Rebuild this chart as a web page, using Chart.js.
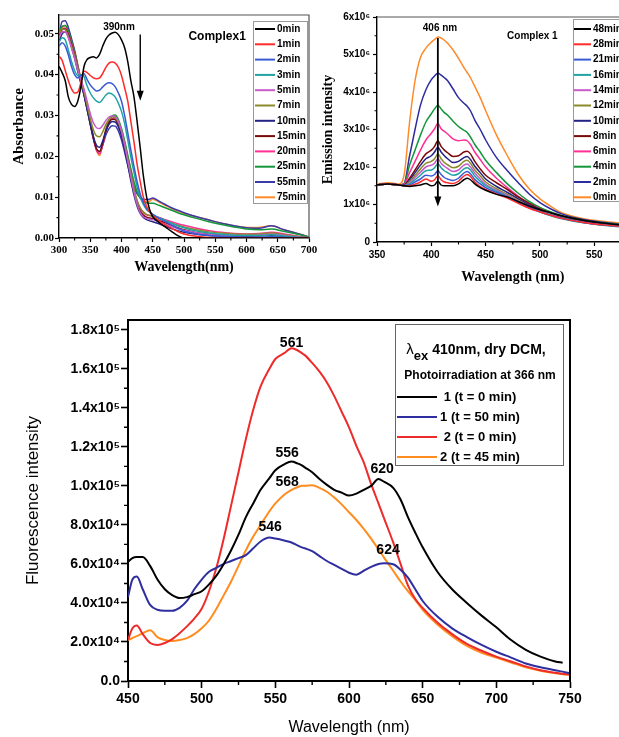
<!DOCTYPE html>
<html>
<head>
<meta charset="utf-8">
<script src="https://cdn.jsdelivr.net/npm/chart.js@4.4.1/dist/chart.umd.min.js"></script>
<style>
html, body { margin: 0; padding: 0; background: #fff; overflow: hidden; width: 619px; height: 737px; }
canvas { position: absolute; }
#c1 { left: 0; top: 0; }
#c2 { left: 320px; top: 0; }
#c3 { left: 0; top: 290px; }
</style>
</head>
<body>
<canvas id="c1" width="320" height="285"></canvas>
<canvas id="c2" width="340" height="288"></canvas>
<canvas id="c3" width="619" height="447"></canvas>
<script>
// ---------- absorption, complex 1 (top left) ----------
var absWl = [300,305,310,315,320,325,330,335,340,345,350,355,360,365,370,375,380,385,390,395,
	400,405,410,415,420,425,430,435,440,445,450,460,470,480,490,500,520,540,560,580,600,620,640,660,680,700];
var absTimes = ['0min','1min','2min','3min','5min','7min','10min','15min','20min','25min','55min','75min'];
var abs0  = [.0420,.0405,.0385,.0345,.0327,.0322,.0335,.0370,.0420,.0437,.0442,.0444,.0441,.0450,.0470,.0487,.0497,.0502,.0504,.0498,
	.0485,.0466,.0432,.0385,.0345,.0285,.0220,.0152,.0102,.0070,.0052,.0038,.0027,.0016,.0006,0,0,0,0,0,0,0,0,0,0,0];
var abs1  = [.0445,.0435,.0410,.0385,.0365,.0355,.0357,.0380,.0408,.0405,.0398,.0392,.0390,.0392,.0403,.0418,.0428,.0431,.0428,.0418,
	.0398,.0368,.0335,.0285,.0235,.0180,.0138,.0100,.0078,.0064,.0055,.0042,.0032,.0024,.0016,.0010,.0004,.0001,0,0,0,0,0,0,0,0];
var abs2  = [.0470,.0478,.0470,.0448,.0420,.0400,.0392,.0398,.0402,.0388,.0375,.0366,.0360,.0362,.0370,.0377,.0380,.0378,.0370,.0355,
	.0335,.0300,.0258,.0215,.0175,.0138,.0108,.0087,.0072,.0064,.0058,.0048,.0040,.0032,.0024,.0017,.0010,.0006,.0004,.0003,.0002,.0002,.0003,.0002,.0001,0];
var abs3  = [.0480,.0490,.0485,.0460,.0432,.0410,.0398,.0400,.0395,.0372,.0355,.0343,.0335,.0332,.0340,.0350,.0355,.0352,.0345,.0330,
	.0310,.0280,.0240,.0198,.0160,.0125,.0100,.0082,.0070,.0063,.0058,.0050,.0043,.0036,.0030,.0025,.0017,.0012,.0009,.0007,.0006,.0006,.0008,.0005,.0002,0];
var abs5  = [.0490,.0505,.0505,.0490,.0465,.0440,.0412,.0388,.0365,.0335,.0305,.0282,.0270,.0268,.0276,.0288,.0296,.0299,.0297,.0285,
	.0262,.0228,.0190,.0150,.0112,.0082,.0062,.0052,.0048,.0046,.0045,.0040,.0034,.0028,.0023,.0019,.0013,.0009,.0007,.0006,.0006,.0007,.0009,.0006,.0003,0];
var abs7  = [.0500,.0512,.0510,.0494,.0470,.0445,.0415,.0385,.0358,.0325,.0292,.0265,.0250,.0248,.0260,.0278,.0290,.0296,.0294,.0283,
	.0262,.0230,.0193,.0155,.0120,.0092,.0074,.0064,.0058,.0055,.0053,.0048,.0042,.0036,.0031,.0027,.0020,.0015,.0012,.0010,.0009,.0010,.0012,.0008,.0004,0];
var abs10 = [.0480,.0500,.0505,.0492,.0468,.0440,.0408,.0378,.0350,.0315,.0280,.0248,.0227,.0222,.0238,.0262,.0278,.0285,.0284,.0272,
	.0250,.0218,.0180,.0140,.0105,.0078,.0060,.0050,.0045,.0042,.0040,.0035,.0029,.0023,.0018,.0014,.0009,.0006,.0005,.0004,.0004,.0005,.0006,.0004,.0002,0];
var abs15 = [.0495,.0510,.0512,.0498,.0474,.0447,.0414,.0382,.0352,.0317,.0280,.0244,.0218,.0212,.0232,.0262,.0282,.0291,.0290,.0278,
	.0256,.0224,.0187,.0148,.0113,.0085,.0066,.0056,.0051,.0049,.0048,.0043,.0037,.0031,.0025,.0020,.0013,.0009,.0007,.0006,.0006,.0007,.0009,.0006,.0003,0];
var abs20 = [.0500,.0512,.0514,.0500,.0477,.0450,.0418,.0385,.0355,.0320,.0283,.0245,.0215,.0206,.0228,.0260,.0282,.0292,.0292,.0280,
	.0258,.0227,.0190,.0152,.0117,.0090,.0072,.0062,.0057,.0055,.0054,.0050,.0045,.0040,.0035,.0031,.0024,.0018,.0014,.0011,.0010,.0011,.0014,.0010,.0005,0];
var abs25 = [.0505,.0518,.0520,.0506,.0482,.0455,.0422,.0388,.0357,.0322,.0285,.0247,.0217,.0207,.0230,.0264,.0287,.0299,.0301,.0290,
	.0268,.0238,.0203,.0168,.0137,.0113,.0098,.0090,.0086,.0085,.0085,.0080,.0074,.0068,.0062,.0057,.0048,.0040,.0033,.0027,.0022,.0020,.0022,.0016,.0010,.0002];
var abs55 = [.0495,.0530,.0532,.0515,.0488,.0458,.0422,.0386,.0352,.0315,.0278,.0243,.0218,.0212,.0228,.0252,.0268,.0275,.0274,.0262,
	.0240,.0210,.0178,.0148,.0124,.0108,.0099,.0095,.0094,.0095,.0098,.0090,.0082,.0074,.0068,.0062,.0052,.0044,.0036,.0030,.0025,.0024,.0030,.0020,.0012,.0002];
var abs75 = [.0500,.0515,.0520,.0508,.0485,.0460,.0425,.0390,.0360,.0325,.0290,.0248,.0215,.0202,.0230,.0268,.0290,.0298,.0298,.0285,
	.0260,.0232,.0200,.0168,.0135,.0112,.0098,.0090,.0088,.0090,.0095,.0088,.0080,.0072,.0066,.0060,.0052,.0044,.0036,.0030,.0026,.0026,.0030,.0020,.0012,.0002];
var absSeries = [abs0, abs1, abs2, abs3, abs5, abs7, abs10, abs15, abs20, abs25, abs55, abs75];
var absColors = ['#000000','#ff2a2a','#3b5bd6','#1fa3a3','#c55cc8','#8a8a2a','#232383','#7a0a0a','#ff2f96','#14963a','#3a3aa8','#ff8a2a'];

// ---------- emission, complex 1 (top right), values x10^6 ----------
var emWl = [350,360,370,375,380,385,390,395,400,403,406,409,412,415,420,425,430,433,436,440,
	445,450,460,470,480,490,500,510,520,540,560,580,600];
var emTimes = ['48min','28min','21min','16min','14min','12min','10min','8min','6min','4min','2min','0min'];
var em48 = [1.52,1.55,1.52,1.50,1.48,1.50,1.52,1.56,1.50,1.52,1.63,1.52,1.50,1.50,1.50,1.55,1.66,1.70,1.66,1.55,
	1.45,1.38,1.27,1.20,1.08,0.96,0.86,0.78,0.70,0.58,0.50,0.44,0.40];
var em28 = [1.52,1.55,1.52,1.50,1.50,1.54,1.60,1.68,1.62,1.66,1.77,1.66,1.60,1.58,1.56,1.62,1.76,1.80,1.75,1.60,
	1.48,1.40,1.28,1.17,1.03,0.90,0.80,0.71,0.63,0.52,0.45,0.40,0.37];
var em21 = [1.52,1.55,1.52,1.50,1.52,1.60,1.68,1.78,1.76,1.80,1.90,1.80,1.72,1.68,1.64,1.70,1.84,1.88,1.82,1.67,
	1.55,1.45,1.32,1.20,1.05,0.92,0.81,0.72,0.64,0.52,0.45,0.40,0.37];
var em16 = [1.52,1.55,1.52,1.50,1.55,1.66,1.78,1.90,1.92,1.98,2.09,1.98,1.90,1.85,1.78,1.82,1.95,1.98,1.92,1.76,
	1.62,1.50,1.35,1.21,1.06,0.92,0.80,0.70,0.62,0.51,0.44,0.39,0.36];
var em14 = [1.52,1.55,1.52,1.50,1.58,1.72,1.86,2.00,2.05,2.10,2.22,2.10,2.02,1.96,1.88,1.92,2.05,2.08,2.00,1.84,
	1.68,1.54,1.38,1.24,1.08,0.94,0.82,0.72,0.63,0.52,0.45,0.40,0.36];
var em12 = [1.52,1.55,1.52,1.50,1.62,1.78,1.95,2.10,2.15,2.22,2.35,2.22,2.12,2.06,1.98,2.02,2.15,2.18,2.10,1.92,
	1.76,1.60,1.42,1.27,1.11,0.96,0.84,0.74,0.65,0.53,0.46,0.41,0.37];
var em10 = [1.52,1.55,1.52,1.52,1.65,1.85,2.05,2.22,2.30,2.40,2.53,2.40,2.30,2.22,2.12,2.15,2.25,2.28,2.20,2.02,
	1.85,1.68,1.48,1.32,1.15,0.99,0.86,0.75,0.66,0.54,0.47,0.42,0.38];
var em8  = [1.52,1.55,1.52,1.52,1.70,1.92,2.15,2.35,2.45,2.55,2.70,2.55,2.45,2.38,2.28,2.30,2.40,2.42,2.35,2.15,
	1.95,1.78,1.58,1.40,1.20,1.03,0.88,0.77,0.67,0.55,0.47,0.42,0.38];
var em6  = [1.52,1.55,1.52,1.54,1.85,2.15,2.45,2.72,2.90,3.02,3.16,3.02,2.95,2.88,2.75,2.70,2.72,2.70,2.60,2.40,
	2.20,2.00,1.70,1.45,1.22,1.03,0.88,0.76,0.66,0.54,0.47,0.42,0.38];
var em4  = [1.52,1.55,1.52,1.55,2.05,2.45,2.85,3.20,3.42,3.55,3.65,3.55,3.45,3.38,3.22,3.08,2.98,2.92,2.80,2.60,
	2.40,2.18,1.85,1.55,1.30,1.08,0.92,0.80,0.70,0.58,0.50,0.45,0.41];
var em2  = [1.52,1.55,1.52,1.56,2.30,3.00,3.65,4.06,4.33,4.43,4.50,4.45,4.38,4.30,4.08,3.85,3.70,3.62,3.50,3.25,
	3.00,2.72,2.25,1.90,1.58,1.28,1.05,0.88,0.75,0.60,0.52,0.46,0.42];
var em0  = [1.55,1.58,1.55,1.80,3.20,4.30,4.92,5.17,5.33,5.40,5.47,5.44,5.38,5.30,5.12,4.90,4.65,4.52,4.38,4.15,
	3.85,3.50,2.85,2.30,1.80,1.42,1.15,0.95,0.78,0.62,0.55,0.48,0.44];
var emSeries = [em48, em28, em21, em16, em14, em12, em10, em8, em6, em4, em2, em0];
var emColors = ['#000000','#ff2a2a','#3b5bd6','#1fa3a3','#c55cc8','#8a8a2a','#232383','#7a0a0a','#ff2f96','#14963a','#2c2ca0','#ff8a2a'];

// ---------- fluorescence, 1 and 2 (bottom), values x10^3 ----------
var flWl = [450,453,456,460,465,470,475,480,485,490,495,500,505,510,515,520,525,530,535,540,
	546,550,556,561,565,568,570,575,580,585,590,595,600,605,610,615,620,624,630,635,
	640,645,650,660,670,680,690,700,710,720,730,740,745,750];
var flLabels = ['1 (t = 0 min)', '1 (t = 50 min)', '2 (t = 0 min)', '2 (t = 45 min)'];
var fl1t0  = [61,63,63.5,63.5,59,52,47,44,42.5,43,44.5,46,49.5,54,60,67,75,84,91,98,
	104,108,111,112.5,111.5,110.5,109.5,107,103.5,100.5,98,96.5,95,96,98,100,103.5,102,99,93,
	84,76,68.5,56,47,40,33.5,27.5,21,16,12.5,10,9.4,null];
var fl1t50 = [43,52,53.5,47,39,36.5,36,36,37.5,41,47,52,56,58,60,61.5,63,64.5,68,71.5,
	73.5,73,72,71,69.5,68.5,68,66.5,64,61.5,59.5,57.5,55.5,54.5,56.5,58.5,60,60.3,59.8,57,
	53,47,41,33,27,22.5,18.5,15,12,9,7,5.5,4.8,4];
var fl2t0  = [21,27,28.5,24,19.5,18.5,19.5,21.5,24.5,28,32,37,46,58,73,90,107,124,139,151,
	160,165,168,170.5,169.5,168,167,163,158.5,153,146,138,130,120.5,112,101,91,83,71,60,
	49,42,37.5,30,24,19,15.5,12.5,10,7.5,5.5,4.2,3.7,3.2];
var fl2t45 = [21,22,23,24.5,26,22.5,21,20.5,21,22,24,27,31,37,44,51,59,67,74,80,
	87,91,95.5,98,99.3,100,100,100.3,99,97,94,90.5,86.5,82.5,78,73,67.5,63,56.5,51,
	46,41.5,36.5,29,23,18,14.5,12,9.5,7,5.2,4,3.5,3.2];
var flSeries = [fl1t0, fl1t50, fl2t0, fl2t45];
var flColors = ['#000000','#2e2e9e','#ee2b2b','#ff8c1e'];
var flPeakText = ['561','556','568','546','620','624'];
var flPeakWl = [561, 558, 558, 546.5, 622.5, 626.5];
var flPeakVal = [173, 117, 102, 79, 108.5, 67];

var SANS = '"Liberation Sans", Arial, sans-serif';
var SERIF = '"Liberation Serif", "Times New Roman", serif';

function lines(xs, series, labels, colors, width) {
	return series.map(function (ys, i) {
		return {
			label: labels[i],
			data: xs.map(function (x, j) { return {x: x, y: ys[j]}; }),
			borderColor: colors[i],
			backgroundColor: colors[i],
			borderWidth: width,
			pointRadius: 0,
			fill: false,
			cubicInterpolationMode: 'monotone'
		};
	});
}

function minorTicks(scale, step, major, draw) {
	var n = Math.round((scale.max - scale.min) / step);
	for (var i = 0; i <= n; i++) {
		var v = scale.min + i * step;
		if (v > scale.max + 1e-9) continue;
		var r = v / major;
		if (Math.abs(r - Math.round(r)) < 1e-6) continue;
		draw(scale.getPixelForValue(v));
	}
}

// frame, minor ticks, labels, arrows and the boxed legend
function makeDeco(cfg) {
	return {
		id: 'deco',
		afterDraw: function (chart) {
			var c = chart.ctx, a = chart.chartArea, xs = chart.scales.x, ys = chart.scales.y;
			c.save();
			c.strokeStyle = cfg.frameColor;
			c.lineWidth = cfg.frameWidth;
			c.beginPath();
			c.moveTo(a.left, a.top); c.lineTo(a.right, a.top); c.lineTo(a.right, a.bottom);
			c.stroke();

			c.strokeStyle = '#000';
			c.lineWidth = cfg.tickWidth;
			c.beginPath();
			minorTicks(xs, cfg.minorX, xs.options.ticks.stepSize, function (p) {
				c.moveTo(p, a.bottom); c.lineTo(p, a.bottom + cfg.minorLen);
			});
			minorTicks(ys, cfg.minorY, ys.options.ticks.stepSize, function (p) {
				c.moveTo(a.left, p); c.lineTo(a.left - cfg.minorLen, p);
			});
			c.stroke();

			c.fillStyle = '#000';
			c.textBaseline = 'middle';
			(cfg.texts || []).forEach(function (t) {
				c.font = t.font;
				c.textAlign = 'center';
				c.fillText(t.t, xs.getPixelForValue(t.x), ys.getPixelForValue(t.y));
			});

			(cfg.arrows || []).forEach(function (ar) {
				var px = xs.getPixelForValue(ar.x), p1 = ys.getPixelForValue(ar.y1), p2 = ys.getPixelForValue(ar.y2);
				c.lineWidth = ar.w;
				c.strokeStyle = '#000';
				c.beginPath(); c.moveTo(px, p1); c.lineTo(px, p2 - 9); c.stroke();
				c.beginPath(); c.moveTo(px - 3.5, p2 - 10); c.lineTo(px + 3.5, p2 - 10); c.lineTo(px, p2); c.closePath(); c.fill();
			});

			var L = cfg.legend;
			if (L) {
				c.fillStyle = '#fff';
				c.fillRect(L.x, L.y, L.w, L.h);
				c.strokeStyle = L.border;
				c.lineWidth = 1;
				c.strokeRect(L.x + 0.5, L.y + 0.5, L.w, L.h);
				(L.header || []).forEach(function (h) {
					var total = 0;
					h.parts.forEach(function (p) { c.font = p.font; total += c.measureText(p.t).width; });
					var x = h.cx - total / 2;
					c.fillStyle = '#000';
					c.textAlign = 'left';
					h.parts.forEach(function (p) {
						c.font = p.font;
						c.fillText(p.t, x, h.y + p.dy);
						x += c.measureText(p.t).width;
					});
				});
				chart.data.datasets.forEach(function (ds, i) {
					var y = L.rowY + i * L.gap;
					c.strokeStyle = ds.borderColor;
					c.lineWidth = L.lw;
					c.beginPath(); c.moveTo(L.l1, y); c.lineTo(L.l2, y); c.stroke();
					c.fillStyle = '#000';
					c.font = L.font;
					c.textAlign = L.align;
					c.fillText(ds.label, L.tx, y);
				});
			}
			c.restore();
		}
	};
}

function axis(o) {
	return {
		type: 'linear',
		min: o.min,
		max: o.max,
		afterFit: o.fit,
		ticks: {
			stepSize: o.step,
			includeBounds: false,
			autoSkip: false,
			maxRotation: 0,
			padding: o.pad,
			color: '#000',
			font: o.font,
			callback: o.fmt
		},
		grid: { drawOnChartArea: false, drawTicks: true, tickLength: o.tl, tickColor: '#000', tickWidth: o.tw },
		border: { display: true, color: '#000', width: o.bw },
		title: { display: true, text: o.title, color: '#000', font: o.tfont, padding: o.tpad }
	};
}

function build(id, datasets, pad, x, y, deco) {
	return new Chart(document.getElementById(id), {
		type: 'line',
		data: { datasets: datasets },
		options: {
			responsive: false,
			animation: false,
			devicePixelRatio: 1,
			layout: { padding: pad },
			plugins: { legend: { display: false }, tooltip: { enabled: false } },
			scales: { x: axis(x), y: axis(y) }
		},
		plugins: [makeDeco(deco)]
	});
}

// top left
build('c1', lines(absWl, absSeries, absTimes, absColors, 1.5),
	{ left: 0, top: 15, right: 11, bottom: 0 },
	{ min: 300, max: 700, step: 50, pad: 2, tl: 4, tw: 1.2, bw: 1.4,
	  font: { family: SERIF, weight: 'bold', size: 11 },
	  fmt: function (v) { return String(v); },
	  fit: function (s) { s.height = 47; },
	  title: 'Wavelength(nm)', tfont: { family: SERIF, weight: 'bold', size: 14 }, tpad: { top: 0, bottom: 9.6 } },
	{ min: 0, max: 0.0546, step: 0.01, pad: 1, tl: 4, tw: 1.2, bw: 1.4,
	  font: { family: SERIF, weight: 'bold', size: 11 },
	  fmt: function (v) { return v.toFixed(2); },
	  fit: function (s) { s.width = 59; },
	  title: 'Absorbance', tfont: { family: SERIF, weight: 'bold', size: 15 }, tpad: { top: 10, bottom: 0 } },
	{ frameColor: '#555', frameWidth: 1.2, tickWidth: 1.1, minorX: 25, minorY: 0.005, minorLen: 2.5,
	  texts: [
		{ t: '390nm', x: 396, y: 0.0517, font: 'bold 10px ' + SANS },
		{ t: 'Complex1', x: 553, y: 0.0493, font: 'bold 12px ' + SANS }
	  ],
	  arrows: [{ x: 430, y1: 0.0498, y2: 0.0336, w: 1.4 }],
	  legend: { x: 253, y: 21, w: 54, h: 182, border: '#999', rowY: 29, gap: 15.3, l1: 255, l2: 275, tx: 277,
		lw: 2, font: 'bold 10px ' + SANS, align: 'left' } });

// top right
build('c2', lines(emWl, emSeries, emTimes, emColors, 1.5),
	{ left: 0, top: 17, right: 3, bottom: 0 },
	{ min: 350, max: 600, step: 50, pad: 3, tl: 4, tw: 1.2, bw: 1.4,
	  font: { family: SANS, weight: 'bold', size: 10 },
	  fmt: function (v) { return String(v); },
	  fit: function (s) { s.height = 46; },
	  title: 'Wavelength (nm)', tfont: { family: SERIF, weight: 'bold', size: 14 }, tpad: { top: 0, bottom: 2.6 } },
	{ min: 0, max: 6, step: 1, pad: 3, tl: 4, tw: 1.2, bw: 1.4,
	  font: { family: SANS, weight: 'bold', size: 10 },
	  fmt: function (v) { return v === 0 ? '0' : v + 'x10\u2076'; },
	  fit: function (s) { s.width = 57; },
	  title: 'Emission intensity', tfont: { family: SERIF, weight: 'bold', size: 14 }, tpad: { top: 0, bottom: 0 } },
	{ frameColor: '#555', frameWidth: 1.2, tickWidth: 1.1, minorX: 25, minorY: 0.5, minorLen: 2.5,
	  texts: [
		{ t: '406 nm', x: 408, y: 5.69, font: 'bold 10px ' + SANS },
		{ t: 'Complex 1', x: 493, y: 5.5, font: 'bold 10px ' + SANS }
	  ],
	  arrows: [{ x: 406, y1: 5.44, y2: 0.95, w: 1.8 }],
	  legend: { x: 253, y: 19, w: 80, h: 182, border: '#999', rowY: 29, gap: 15.3, l1: 254, l2: 271, tx: 273,
		lw: 2, font: 'bold 10px ' + SANS, align: 'left' } });

// bottom
build('c3', lines(flWl, flSeries, flLabels, flColors, 2),
	{ left: 0, top: 30, right: 49, bottom: 0 },
	{ min: 450, max: 750, step: 50, pad: 3, tl: 7, tw: 1.6, bw: 2,
	  font: { family: SANS, weight: 'bold', size: 14 },
	  fmt: function (v) { return String(v); },
	  fit: function (s) { s.height = 56; },
	  title: 'Wavelength (nm)', tfont: { family: SANS, size: 16 }, tpad: { top: 0, bottom: 0 } },
	{ min: 0, max: 185, step: 20, pad: 1, tl: 7, tw: 1.6, bw: 2,
	  font: { family: SANS, weight: 'bold', size: 14 },
	  fmt: function (v) { return v === 0 ? '0.0' : (v < 100 ? (v / 10).toFixed(1) + 'x10\u2074' : (v / 100).toFixed(1) + 'x10\u2075'); },
	  fit: function (s) { s.width = 128; },
	  title: 'Fluorescence intensity', tfont: { family: SANS, size: 17 }, tpad: { top: 23.5, bottom: 0 } },
	{ frameColor: '#000', frameWidth: 2, tickWidth: 1.4, minorX: 25, minorY: 10, minorLen: 4,
	  texts: flPeakText.map(function (t, i) {
		return { t: t, x: flPeakWl[i], y: flPeakVal[i], font: 'bold 14px ' + SANS };
	  }),
	  legend: { x: 395, y: 34, w: 168, h: 141, border: '#666', rowY: 107, gap: 20, l1: 397, l2: 437, tx: 480,
		lw: 2.2, font: 'bold 13px ' + SANS, align: 'center',
		header: [
			{ cx: 476, y: 60, parts: [
				{ t: '\u03bb', font: '15px ' + SANS, dy: 0 },
				{ t: 'ex', font: 'bold 13px ' + SANS, dy: 6 },
				{ t: ' 410nm, dry DCM,', font: 'bold 14px ' + SANS, dy: 0 }
			] },
			{ cx: 480, y: 86, parts: [{ t: 'Photoirradiation at 366 nm', font: 'bold 12px ' + SANS, dy: 0 }] }
		] } });
</script>
</body>
</html>
